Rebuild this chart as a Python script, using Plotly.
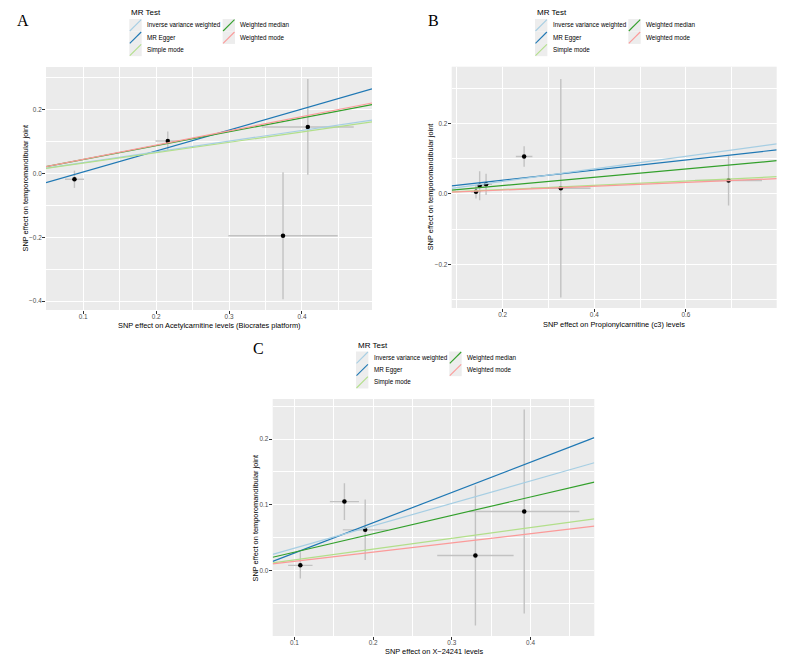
import plotly.graph_objects as go

W, H = 787, 663

# ---------------- data ----------------
methods = ["Inverse variance weighted", "MR Egger", "Simple mode",
           "Weighted median", "Weighted mode"]
method_colors = ["#A6CEE3", "#1F78B4", "#B2DF8A", "#33A02C", "#FB9A99"]
draw_order = ["MR Egger", "Weighted median", "Inverse variance weighted",
              "Simple mode", "Weighted mode"]

# Panel A : Acetylcarnitine
A_x = [0.088, 0.216, 0.408, 0.374]
A_y = [-0.018, 0.102, 0.146, -0.195]
A_se_x = [0.013, 0.017, 0.063, 0.075]
A_se_y = [0.027, 0.030, 0.150, 0.199]
A_slope = [0.338, 0.658, 0.326, 0.436, 0.446]
A_intercept = [0.0, -0.061, 0.0, 0.0, 0.0]

# Panel B : Propionylcarnitine
B_x = [0.142, 0.150, 0.164, 0.247, 0.327, 0.693]
B_y = [0.006, 0.023, 0.027, 0.106, 0.016, 0.038]
B_se_x = [0.011, 0.010, 0.013, 0.018, 0.065, 0.073]
B_se_y = [0.019, 0.041, 0.030, 0.029, 0.310, 0.071]
B_slope = [0.178, 0.144, 0.061, 0.118, 0.054]
B_intercept = [0.0, 0.010, 0.0, 0.0, 0.0]

# Panel C : X-24241
C_x = [0.1076, 0.1636, 0.190, 0.330, 0.392]
C_y = [0.008, 0.105, 0.062, 0.023, 0.090]
C_se_x = [0.0155, 0.0185, 0.0285, 0.0485, 0.070]
C_se_y = [0.020, 0.028, 0.046, 0.1065, 0.155]
C_slope = [0.341, 0.461, 0.1636, 0.280, 0.1405]
C_intercept = [0.0, -0.0194, 0.0, 0.0, 0.0]

A_xtitle = "SNP effect on Acetylcarnitine levels (Biocrates platform)"
B_xtitle = "SNP effect on Propionylcarnitine (c3) levels"
C_xtitle = "SNP effect on X\u221224241 levels"
ytitle = "SNP effect on temporomandibular joint"
legend_title = "MR Test"

# ---------------- layout helpers ----------------
def px(x):
    return x / W

def py(y):
    return 1 - y / H

FONT = "Liberation Sans"
panels = [
    dict(sfx="", letter="A", x=A_x, y=A_y, sx=A_se_x, sy=A_se_y,
         slope=A_slope, icpt=A_intercept, xt=A_xtitle,
         box=(46, 372, 67, 310), xr=[0.049, 0.496], yr=[-0.428, 0.334],
         xdt=0.1, xmin=0.05, ydt=0.2, ymin=0.1,
         xt_pos=(209.5, 325.5), yt_x=25, letter_pos=(23, 20.5),
         leg=(129.3, 12, [25.3, 37.7, 50.0])),
    dict(sfx="2", letter="B", x=B_x, y=B_y, sx=B_se_x, sy=B_se_y,
         slope=B_slope, icpt=B_intercept, xt=B_xtitle,
         box=(451.7, 776.7, 66.7, 308), xr=[0.089, 0.798], yr=[-0.324, 0.361],
         xdt=0.2, xmin=0.1, ydt=0.2, ymin=0.1,
         xt_pos=(614, 324.5), yt_x=430, letter_pos=(433.3, 20.5),
         leg=(535, 12, [25.3, 37.7, 50.0])),
    dict(sfx="3", letter="C", x=C_x, y=C_y, sx=C_se_x, sy=C_se_y,
         slope=C_slope, icpt=C_intercept, xt=C_xtitle,
         box=(272.7, 594.3, 399, 636), xr=[0.0725, 0.481], yr=[-0.0994, 0.261],
         xdt=0.1, xmin=0.05, ydt=0.1, ymin=0.05,
         xt_pos=(433.8, 651.5), yt_x=255, letter_pos=(258.3, 348.8),
         leg=(356, 345, [357.7, 370.0, 382.3])),
]

fig = go.Figure()
shapes, annotations = [], []
layout_axes = {}

for p in panels:
    s = p["sfx"]
    xa, ya = "x" + s, "y" + s
    # points with error bars
    fig.add_trace(go.Scatter(
        x=p["x"], y=p["y"], mode="markers", xaxis=xa, yaxis=ya,
        marker=dict(color="black", size=4.5),
        error_x=dict(type="data", array=p["sx"], color="#C2C2C2",
                     thickness=1.4, width=0),
        error_y=dict(type="data", array=p["sy"], color="#C2C2C2",
                     thickness=1.4, width=0),
        showlegend=False, hoverinfo="x+y"))
    # regression lines
    for m in draw_order:
        i = methods.index(m)
        xs = list(p["xr"])
        ys = [p["icpt"][i] + p["slope"][i] * v for v in xs]
        fig.add_trace(go.Scatter(
            x=xs, y=ys, mode="lines", xaxis=xa, yaxis=ya, name=m,
            line=dict(color=method_colors[i], width=1.2),
            showlegend=False))

    x0, x1, y0, y1 = p["box"]
    tickfont = dict(family=FONT, size=6.4, color="#4D4D4D")
    layout_axes["xaxis" + s] = dict(
        domain=[px(x0), px(x1)], range=p["xr"], anchor=ya,
        dtick=p["xdt"], tick0=0, tickformat=".1f",
        showgrid=True, gridcolor="white", gridwidth=1.1,
        zeroline=False, showline=False,
        ticks="outside", ticklen=3, tickwidth=0.8, tickcolor="#333333",
        tickfont=tickfont, ticklabelstandoff=-3,
        minor=dict(dtick=p["xmin"], tick0=0, showgrid=True,
                   gridcolor="white", gridwidth=0.5, ticks=""))
    layout_axes["yaxis" + s] = dict(
        domain=[py(y1), py(y0)], range=p["yr"], anchor=xa,
        dtick=p["ydt"], tick0=0, tickformat=".1f",
        showgrid=True, gridcolor="white", gridwidth=1.1,
        zeroline=False, showline=False,
        ticks="outside", ticklen=3, tickwidth=0.8, tickcolor="#333333",
        tickfont=tickfont, ticklabelstandoff=-1,
        minor=dict(dtick=p["ymin"], tick0=0, showgrid=True,
                   gridcolor="white", gridwidth=0.5, ticks=""))

    # axis titles
    annotations.append(dict(
        x=px(p["xt_pos"][0]), y=py(p["xt_pos"][1]), xref="paper", yref="paper",
        text=p["xt"], showarrow=False, xanchor="center", yanchor="middle",
        font=dict(family=FONT, size=7.4, color="black")))
    annotations.append(dict(
        x=px(p["yt_x"]), y=py((y0 + y1) / 2), xref="paper", yref="paper",
        text=ytitle, showarrow=False, textangle=-90,
        xanchor="center", yanchor="middle",
        font=dict(family=FONT, size=7.4, color="black")))
    # panel letter
    annotations.append(dict(
        x=px(p["letter_pos"][0]), y=py(p["letter_pos"][1]),
        xref="paper", yref="paper", text=p["letter"], showarrow=False,
        xanchor="center", yanchor="middle",
        font=dict(family="Liberation Serif", size=16, color="black")))

    # legend (manual, ggplot style: 2 columns, 3 rows)
    lx, ly, rows = p["leg"]
    annotations.append(dict(
        x=px(lx - 0.5), y=py(ly), xref="paper", yref="paper",
        text=legend_title, showarrow=False, xanchor="left", yanchor="middle",
        font=dict(family=FONT, size=8, color="black")))
    k = 12.4
    for i, m in enumerate(methods):
        col, row = divmod(i, 3)
        kx = lx + col * 93.3
        cy = rows[row]
        shapes.append(dict(type="rect", xref="paper", yref="paper",
                           x0=px(kx), x1=px(kx + k),
                           y0=py(cy + k / 2), y1=py(cy - k / 2),
                           fillcolor="#EDEDED", line=dict(width=0),
                           layer="below"))
        shapes.append(dict(type="line", xref="paper", yref="paper",
                           x0=px(kx + 0.5), x1=px(kx + k - 0.5),
                           y0=py(cy + k / 2 - 0.5), y1=py(cy - k / 2 + 0.5),
                           line=dict(color=method_colors[i], width=1.1),
                           layer="above"))
        annotations.append(dict(
            x=px(kx + 15.5), y=py(cy), xref="paper", yref="paper",
            text=m, showarrow=False, xanchor="left", yanchor="middle",
            font=dict(family=FONT, size=6.3, color="black")))

fig.update_layout(
    width=W, height=H, margin=dict(l=0, r=0, t=0, b=0),
    paper_bgcolor="white", plot_bgcolor="#EBEBEB",
    showlegend=False, shapes=shapes, annotations=annotations,
    hovermode=False, **layout_axes)

fig.write_html("out.html", config={"displayModeBar": False})
